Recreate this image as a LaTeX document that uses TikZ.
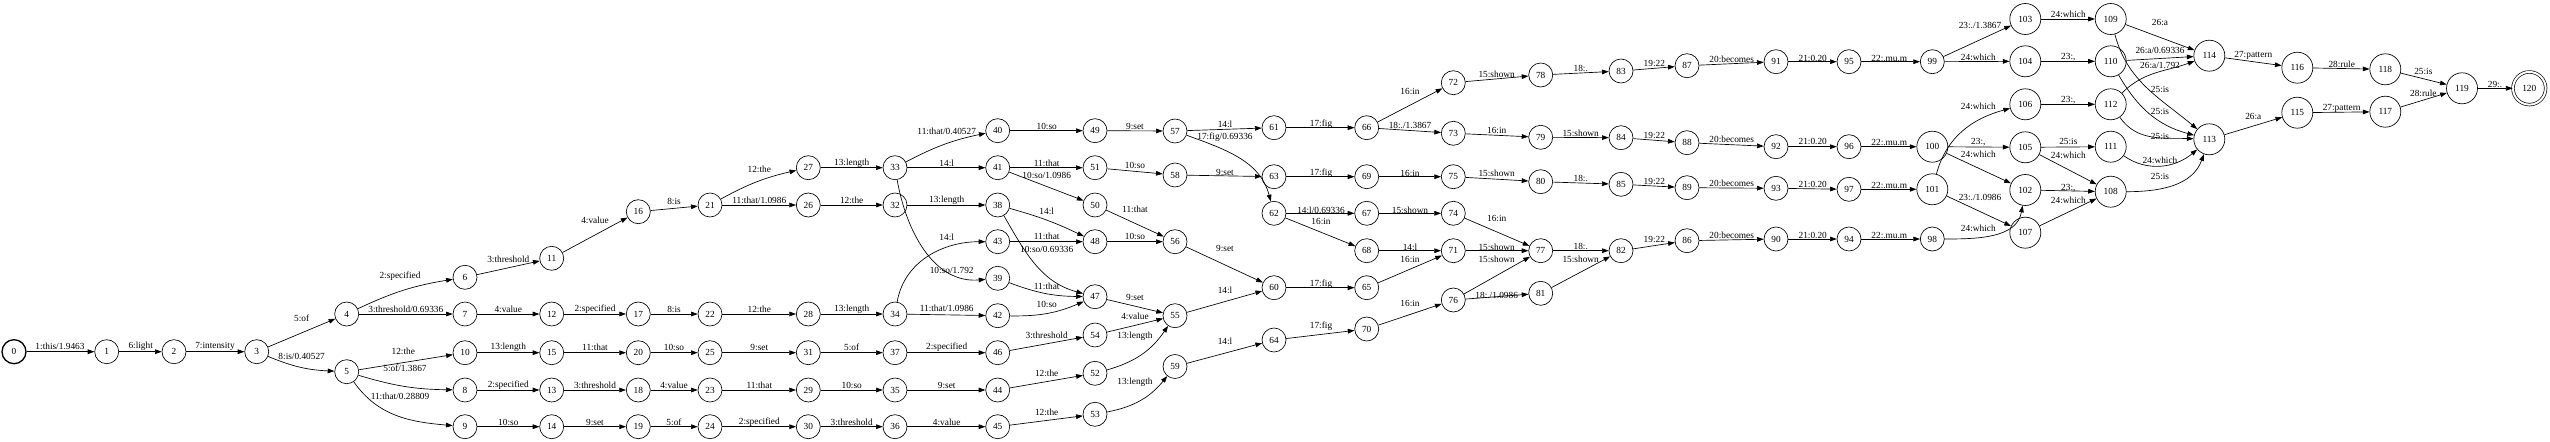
\documentclass[tikz,border=0pt]{standalone}
\usepackage{fontspec}
\setmainfont{Liberation Serif}
\usetikzlibrary{arrows.meta}

\begin{document}
\begin{tikzpicture}[x=1.5pt,y=-1.5pt,
    state/.style={circle,draw=black,line width=1pt,minimum size=36pt,inner sep=0pt},
    bigstate/.style={state,minimum size=46.5pt},
    startstate/.style={state,line width=2pt},
    finalstate/.style={state,minimum size=49pt,double,double distance=3pt},
    trans/.style={draw=black,line width=1pt,-{Triangle[length=10pt,width=7pt]}}]
            \tikzstyle{every node}+=[inner sep=0pt,font=\fontsize{14}{16}\selectfont]
            \useasboundingbox (0,0) rectangle (2550,442);
            % states
            \node [startstate] (n0) at (14,351.7) {0};
            \node [state] (n1) at (106.7,351.7) {1};
            \node [state] (n2) at (174,351.7) {2};
            \node [state] (n3) at (256.7,351.7) {3};
            \node [state] (n4) at (346.7,314) {4};
            \node [state] (n5) at (346.7,371.7) {5};
            \node [state] (n6) at (465,277.3) {6};
            \node [state] (n7) at (465,314) {7};
            \node [state] (n10) at (465,352.7) {10};
            \node [state] (n8) at (465,390) {8};
            \node [state] (n9) at (465,426.7) {9};
            \node [state] (n11) at (551.7,258.3) {11};
            \node [state] (n12) at (551.7,314) {12};
            \node [state] (n15) at (551.7,352.7) {15};
            \node [state] (n13) at (551.7,390) {13};
            \node [state] (n14) at (551.7,426.7) {14};
            \node [state] (n16) at (638.3,211.7) {16};
            \node [state] (n17) at (638.3,314) {17};
            \node [state] (n20) at (638.3,352.7) {20};
            \node [state] (n18) at (638.3,390) {18};
            \node [state] (n19) at (638.3,426.7) {19};
            \node [state] (n21) at (710,205) {21};
            \node [state] (n22) at (710,314) {22};
            \node [state] (n25) at (710,352.7) {25};
            \node [state] (n23) at (710,390) {23};
            \node [state] (n24) at (710,426.7) {24};
            \node [state] (n27) at (808.3,167.7) {27};
            \node [state] (n26) at (808.3,205) {26};
            \node [state] (n28) at (808.3,314) {28};
            \node [state] (n31) at (808.3,352.7) {31};
            \node [state] (n29) at (808.3,390) {29};
            \node [state] (n30) at (808.3,426.7) {30};
            \node [state] (n33) at (895,167.7) {33};
            \node [state] (n32) at (895,205) {32};
            \node [state] (n34) at (895,314) {34};
            \node [state] (n37) at (895,352.7) {37};
            \node [state] (n35) at (895,390) {35};
            \node [state] (n36) at (895,426.7) {36};
            \node [state] (n40) at (997.7,130.7) {40};
            \node [state] (n41) at (997.7,167.7) {41};
            \node [state] (n38) at (997.7,205) {38};
            \node [state] (n43) at (997.7,241.7) {43};
            \node [state] (n39) at (997.7,278.3) {39};
            \node [state] (n42) at (997.7,315.7) {42};
            \node [state] (n46) at (997.7,352.7) {46};
            \node [state] (n44) at (997.7,390) {44};
            \node [state] (n45) at (997.7,426.7) {45};
            \node [state] (n49) at (1095,130.7) {49};
            \node [state] (n51) at (1095,167.7) {51};
            \node [state] (n50) at (1095,205) {50};
            \node [state] (n48) at (1095,241.7) {48};
            \node [state] (n47) at (1095,296.7) {47};
            \node [state] (n54) at (1095,335) {54};
            \node [state] (n52) at (1095,373.3) {52};
            \node [state] (n53) at (1095,414.3) {53};
            \node [state] (n57) at (1175,131) {57};
            \node [state] (n58) at (1175,175) {58};
            \node [state] (n56) at (1175,241.7) {56};
            \node [state] (n55) at (1175,315.7) {55};
            \node [state] (n59) at (1175,366.5) {59};
            \node [state] (n61) at (1274,127.7) {61};
            \node [state] (n63) at (1274,176.7) {63};
            \node [state] (n62) at (1274,213.3) {62};
            \node [state] (n60) at (1274,287.7) {60};
            \node [state] (n64) at (1274,340) {64};
            \node [state] (n66) at (1366.7,127.7) {66};
            \node [state] (n69) at (1366.7,176.7) {69};
            \node [state] (n67) at (1366.7,213.3) {67};
            \node [state] (n68) at (1366.7,250.7) {68};
            \node [state] (n65) at (1366.7,287.7) {65};
            \node [state] (n70) at (1366.7,329) {70};
            \node [state] (n72) at (1453.3,82.7) {72};
            \node [state] (n73) at (1453.3,133.3) {73};
            \node [state] (n75) at (1453.3,176.7) {75};
            \node [state] (n74) at (1453.3,213.3) {74};
            \node [state] (n71) at (1453.3,250.7) {71};
            \node [state] (n76) at (1453.3,300) {76};
            \node [state] (n78) at (1540.7,75) {78};
            \node [state] (n79) at (1540.7,137.3) {79};
            \node [state] (n80) at (1540.7,181.7) {80};
            \node [state] (n77) at (1540.7,250.7) {77};
            \node [state] (n81) at (1540.7,293.3) {81};
            \node [state] (n83) at (1621,71) {83};
            \node [state] (n84) at (1621,137.7) {84};
            \node [state] (n85) at (1621,184.3) {85};
            \node [state] (n82) at (1621,250.7) {82};
            \node [state] (n87) at (1687,65.7) {87};
            \node [state] (n88) at (1687,142.7) {88};
            \node [state] (n89) at (1687,187.7) {89};
            \node [state] (n86) at (1687,240.7) {86};
            \node [state] (n91) at (1776,61.7) {91};
            \node [state] (n92) at (1776,146.7) {92};
            \node [state] (n93) at (1776,188.3) {93};
            \node [state] (n90) at (1776,239) {90};
            \node [state] (n95) at (1849,61.7) {95};
            \node [state] (n96) at (1849,146.7) {96};
            \node [state] (n97) at (1849,189.3) {97};
            \node [state] (n94) at (1849,239) {94};
            \node [state] (n99) at (1932.3,61.7) {99};
            \node [bigstate] (n100) at (1932.3,146.7) {100};
            \node [bigstate] (n101) at (1932.3,189.3) {101};
            \node [state] (n98) at (1932.3,239) {98};
            \node [bigstate] (n103) at (2025.3,19) {103};
            \node [bigstate] (n104) at (2025.3,61.3) {104};
            \node [bigstate] (n106) at (2025.3,104.3) {106};
            \node [bigstate] (n105) at (2025.3,147.3) {105};
            \node [bigstate] (n102) at (2025.3,190) {102};
            \node [bigstate] (n107) at (2025.3,232.7) {107};
            \node [bigstate] (n109) at (2110.7,19) {109};
            \node [bigstate] (n110) at (2110.7,61.3) {110};
            \node [bigstate] (n112) at (2110.7,104.3) {112};
            \node [bigstate] (n111) at (2110.7,146.7) {111};
            \node [bigstate] (n108) at (2110.7,191.7) {108};
            \node [bigstate] (n114) at (2209.3,55.7) {114};
            \node [bigstate] (n113) at (2209.3,139.3) {113};
            \node [bigstate] (n116) at (2297.3,67.7) {116};
            \node [bigstate] (n115) at (2297.3,112.7) {115};
            \node [bigstate] (n118) at (2385.3,69.3) {118};
            \node [bigstate] (n117) at (2385.3,111.7) {117};
            \node [bigstate] (n119) at (2462,88.3) {119};
            \node [finalstate] (n120) at (2529.3,88.3) {120};
            % transitions
            \draw [trans] (n0) -- (n1);
            \draw (60,346.7) node {1:this/1.9463};
            \draw [trans] (n1) -- (n2);
            \draw (140.7,346.7) node {6:light};
            \draw [trans] (n2) -- (n3);
            \draw (215,346.7) node {7:intensity};
            \draw [trans] (n3) -- (n4);
            \draw (301.7,318.3) node {5:of};
            \draw [trans] (n3) to [bend right=10] (n5);
            \draw (301.7,356.7) node {8:is/0.40527};
            \draw [trans] (n4) to [bend left=8] (n6);
            \draw (400,276) node {2:specified};
            \draw [trans] (n4) -- (n7);
            \draw (405.8,309.3) node {3:threshold/0.69336};
            \draw [trans] (n5) -- (n10);
            \draw (403.3,351.7) node {12:the};
            \draw [trans] (n5) to [bend right=8] (n8);
            \draw (405,368.5) node {5:of/1.3867};
            \draw [trans] (n5) to [out=-55,in=175] (n9);
            \draw (400,396.7) node {11:that/0.28809};
            \draw [trans] (n6) -- (n11);
            \draw (508.3,259) node {3:threshold};
            \draw [trans] (n7) -- (n12);
            \draw (508.3,309) node {4:value};
            \draw [trans] (n10) -- (n15);
            \draw (508.3,347.3) node {13:length};
            \draw [trans] (n8) -- (n13);
            \draw (508.3,385) node {2:specified};
            \draw [trans] (n9) -- (n14);
            \draw (508.3,422.3) node {10:so};
            \draw [trans] (n11) -- (n16);
            \draw (595,220) node {4:value};
            \draw [trans] (n12) -- (n17);
            \draw (595,309) node {2:specified};
            \draw [trans] (n15) -- (n20);
            \draw (595,347.3) node {11:that};
            \draw [trans] (n13) -- (n18);
            \draw (595,385) node {3:threshold};
            \draw [trans] (n14) -- (n19);
            \draw (595,422.3) node {9:set};
            \draw [trans] (n16) -- (n21);
            \draw (674,201.7) node {8:is};
            \draw [trans] (n17) -- (n22);
            \draw (674,309) node {8:is};
            \draw [trans] (n20) -- (n25);
            \draw (674,347.3) node {10:so};
            \draw [trans] (n18) -- (n23);
            \draw (674,385) node {4:value};
            \draw [trans] (n19) -- (n24);
            \draw (674,422.3) node {5:of};
            \draw [trans] (n21) to [bend left=8] (n27);
            \draw (759.3,169) node {12:the};
            \draw [trans] (n21) -- (n26);
            \draw (759.3,200) node {11:that/1.0986};
            \draw [trans] (n22) -- (n28);
            \draw (759.3,309) node {12:the};
            \draw [trans] (n25) -- (n31);
            \draw (759.3,347.3) node {9:set};
            \draw [trans] (n23) -- (n29);
            \draw (759.3,385) node {11:that};
            \draw [trans] (n24) -- (n30);
            \draw (759.3,422.3) node {2:specified};
            \draw [trans] (n27) -- (n33);
            \draw (851.7,163.3) node {13:length};
            \draw [trans] (n26) -- (n32);
            \draw (851.7,200) node {12:the};
            \draw [trans] (n28) -- (n34);
            \draw (851.7,309) node {13:length};
            \draw [trans] (n31) -- (n37);
            \draw (851.7,347.3) node {5:of};
            \draw [trans] (n29) -- (n35);
            \draw (851.7,385) node {10:so};
            \draw [trans] (n30) -- (n36);
            \draw (851.7,422.3) node {3:threshold};
            \draw [trans] (n33) to [bend left=8] (n40);
            \draw (946.7,131.7) node {11:that/0.40527};
            \draw [trans] (n33) -- (n41);
            \draw (946.7,163.3) node {14:l};
            \draw [trans] (n33) to [out=-80,in=185] (n39);
            \draw (951.7,270.7) node {10:so/1.792};
            \draw [trans] (n32) -- (n38);
            \draw (946.7,200) node {13:length};
            \draw [trans] (n34) to [out=80,in=180] (n43);
            \draw (946.7,237.7) node {14:l};
            \draw [trans] (n34) -- (n42);
            \draw (946.7,308.3) node {11:that/1.0986};
            \draw [trans] (n37) -- (n46);
            \draw (946.7,347.3) node {2:specified};
            \draw [trans] (n35) -- (n44);
            \draw (946.7,385) node {9:set};
            \draw [trans] (n36) -- (n45);
            \draw (946.7,422.3) node {4:value};
            \draw [trans] (n40) -- (n49);
            \draw (1046.7,126) node {10:so};
            \draw [trans] (n41) -- (n51);
            \draw (1046.7,163.3) node {11:that};
            \draw [trans] (n41) -- (n50);
            \draw (1046.7,175) node {10:so/1.0986};
            \draw [trans] (n38) to [bend left=5] (n48);
            \draw (1046.7,211.7) node {14:l};
            \draw [trans] (n38) to [out=-60,in=165] (n47);
            \draw (1046.7,249) node {10:so/0.69336};
            \draw [trans] (n43) -- (n48);
            \draw (1046.7,236.7) node {11:that};
            \draw [trans] (n39) to [bend right=10] (n47);
            \draw (1046.7,286) node {11:that};
            \draw [trans] (n42) to [bend right=12] (n47);
            \draw (1046.7,304.3) node {10:so};
            \draw [trans] (n46) -- (n54);
            \draw (1046.7,335) node {3:threshold};
            \draw [trans] (n44) -- (n52);
            \draw (1046.7,373.3) node {12:the};
            \draw [trans] (n45) -- (n53);
            \draw (1046.7,412.7) node {12:the};
            \draw [trans] (n49) -- (n57);
            \draw (1135,126) node {9:set};
            \draw [trans] (n51) -- (n58);
            \draw (1135,165) node {10:so};
            \draw [trans] (n50) -- (n56);
            \draw (1135,209) node {11:that};
            \draw [trans] (n48) -- (n56);
            \draw (1135,236.7) node {10:so};
            \draw [trans] (n47) -- (n55);
            \draw (1135,297.7) node {9:set};
            \draw [trans] (n54) -- (n55);
            \draw (1135,316.7) node {4:value};
            \draw [trans] (n52) to [bend right=20] (n55);
            \draw (1135,336.7) node {13:length};
            \draw [trans] (n53) to [bend right=20] (n59);
            \draw (1135,382.7) node {13:length};
            \draw [trans] (n57) -- (n61);
            \draw (1225,124) node {14:l};
            \draw [trans] (n57) to [out=-20,in=105] (n62);
            \draw (1225,137.7) node {17:fig/0.69336};
            \draw [trans] (n58) -- (n63);
            \draw (1225,172.3) node {9:set};
            \draw [trans] (n56) -- (n60);
            \draw (1225,248) node {9:set};
            \draw [trans] (n55) -- (n60);
            \draw (1225,290) node {14:l};
            \draw [trans] (n59) -- (n64);
            \draw (1225,341) node {14:l};
            \draw [trans] (n61) -- (n66);
            \draw (1321,124) node {17:fig};
            \draw [trans] (n63) -- (n69);
            \draw (1321,173.3) node {17:fig};
            \draw [trans] (n62) -- (n67);
            \draw (1321,210) node {14:l/0.69336};
            \draw [trans] (n62) -- (n68);
            \draw (1321,221.7) node {16:in};
            \draw [trans] (n60) -- (n65);
            \draw (1321,284.3) node {17:fig};
            \draw [trans] (n64) -- (n70);
            \draw (1321,326.7) node {17:fig};
            \draw [trans] (n66) -- (n72);
            \draw (1410,91) node {16:in};
            \draw [trans] (n66) -- (n73);
            \draw (1410,125) node {18:./1.3867};
            \draw [trans] (n69) -- (n75);
            \draw (1410,173.3) node {16:in};
            \draw [trans] (n67) -- (n74);
            \draw (1410,210) node {15:shown};
            \draw [trans] (n68) -- (n71);
            \draw (1410,247.3) node {14:l};
            \draw [trans] (n65) -- (n71);
            \draw (1410,259) node {16:in};
            \draw [trans] (n70) -- (n76);
            \draw (1410,303.3) node {16:in};
            \draw [trans] (n72) -- (n78);
            \draw (1496.7,74) node {15:shown};
            \draw [trans] (n73) -- (n79);
            \draw (1496.7,130) node {16:in};
            \draw [trans] (n75) -- (n80);
            \draw (1496.7,173.3) node {15:shown};
            \draw [trans] (n74) -- (n77);
            \draw (1496.7,218.3) node {16:in};
            \draw [trans] (n71) -- (n77);
            \draw (1496.7,247.3) node {15:shown};
            \draw [trans] (n76) -- (n77);
            \draw (1496.7,259) node {15:shown};
            \draw [trans] (n76) -- (n81);
            \draw (1496.7,295) node {18:./1.0986};
            \draw [trans] (n78) -- (n83);
            \draw (1580.7,68.3) node {18:.};
            \draw [trans] (n79) -- (n84);
            \draw (1580.7,133.3) node {15:shown};
            \draw [trans] (n80) -- (n85);
            \draw (1580.7,178.3) node {18:.};
            \draw [trans] (n77) -- (n82);
            \draw (1580.7,246.7) node {18:.};
            \draw [trans] (n81) -- (n82);
            \draw (1580.7,259) node {15:shown};
            \draw [trans] (n83) -- (n87);
            \draw (1654.3,63.3) node {19:22};
            \draw [trans] (n84) -- (n88);
            \draw (1654.3,135) node {19:22};
            \draw [trans] (n85) -- (n89);
            \draw (1654.3,181) node {19:22};
            \draw [trans] (n82) -- (n86);
            \draw (1654.3,239) node {19:22};
            \draw [trans] (n87) -- (n91);
            \draw (1731.7,59) node {20:becomes};
            \draw [trans] (n88) -- (n92);
            \draw (1731.7,139) node {20:becomes};
            \draw [trans] (n89) -- (n93);
            \draw (1731.7,183.3) node {20:becomes};
            \draw [trans] (n86) -- (n90);
            \draw (1731.7,235) node {20:becomes};
            \draw [trans] (n91) -- (n95);
            \draw (1812.7,58.3) node {21:0.20};
            \draw [trans] (n92) -- (n96);
            \draw (1812.7,141.7) node {21:0.20};
            \draw [trans] (n93) -- (n97);
            \draw (1812.7,184) node {21:0.20};
            \draw [trans] (n90) -- (n94);
            \draw (1812.7,235) node {21:0.20};
            \draw [trans] (n95) -- (n99);
            \draw (1889.3,58.3) node {22:.mu.m};
            \draw [trans] (n96) -- (n100);
            \draw (1889.3,142.3) node {22:.mu.m};
            \draw [trans] (n97) -- (n101);
            \draw (1889.3,185) node {22:.mu.m};
            \draw [trans] (n94) -- (n98);
            \draw (1889.3,235) node {22:.mu.m};
            \draw [trans] (n99) -- (n103);
            \draw (1980,25.7) node {23:./1.3867};
            \draw [trans] (n99) -- (n104);
            \draw (1978.3,57.3) node {24:which};
            \draw [trans] (n101) to [out=75,in=195] (n106);
            \draw (1978.3,106.7) node {24:which};
            \draw [trans] (n100) -- (n105);
            \draw (1978.3,141.7) node {23:,};
            \draw [trans] (n100) -- (n102);
            \draw (1978.3,154) node {24:which};
            \draw [trans] (n101) -- (n107);
            \draw (1980,197.7) node {23:./1.0986};
            \draw [trans] (n98) to [out=0,in=-100] (n102);
            \draw (1978.3,228.3) node {24:which};
            \draw [trans] (n103) -- (n109);
            \draw (2068.3,14) node {24:which};
            \draw [trans] (n104) -- (n110);
            \draw (2068.3,57.3) node {23:,};
            \draw [trans] (n106) -- (n112);
            \draw (2068.3,100) node {23:,};
            \draw [trans] (n105) -- (n111);
            \draw (2068.3,141.7) node {25:is};
            \draw [trans] (n105) -- (n108);
            \draw (2068.3,155) node {24:which};
            \draw [trans] (n102) -- (n108);
            \draw (2068.3,187.7) node {23:,};
            \draw [trans] (n107) -- (n108);
            \draw (2068.3,200) node {24:which};
            \draw [trans] (n109) -- (n114);
            \draw (2160,22.3) node {26:a};
            \draw [trans] (n109) to [out=-75,in=140] (n113);
            \draw (2160,89) node {25:is};
            \draw [trans] (n110) -- (n114);
            \draw (2160,50.7) node {26:a/0.69336};
            \draw [trans] (n110) to [out=-60,in=165] (n113);
            \draw (2160,111) node {25:is};
            \draw [trans] (n112) to [out=45,in=200] (n114);
            \draw (2160,65) node {26:a/1.792};
            \draw [trans] (n112) to [out=-55,in=178] (n113);
            \draw (2160,136) node {25:is};
            \draw [trans] (n111) to [out=-35,in=-140] (n113);
            \draw (2160,160) node {24:which};
            \draw [trans] (n108) to [out=0,in=-110] (n113);
            \draw (2160,176.7) node {25:is};
            \draw [trans] (n114) -- (n116);
            \draw (2253.3,55) node {27:pattern};
            \draw [trans] (n113) -- (n115);
            \draw (2253.3,116) node {26:a};
            \draw [trans] (n116) -- (n118);
            \draw (2341.7,64) node {28:rule};
            \draw [trans] (n115) -- (n117);
            \draw (2341.7,108.3) node {27:pattern};
            \draw [trans] (n118) -- (n119);
            \draw (2423.3,71.7) node {25:is};
            \draw [trans] (n117) -- (n119);
            \draw (2423.3,93.3) node {28:rule};
            \draw [trans] (n119) -- (n120);
            \draw (2495,84) node {29:.};
        \end{tikzpicture}
\end{document}
